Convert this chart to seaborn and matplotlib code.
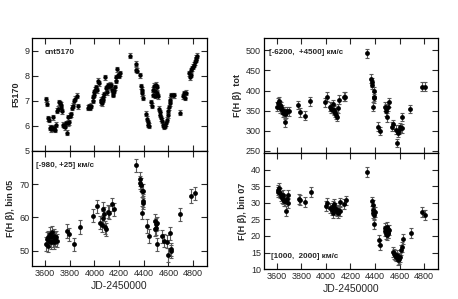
import numpy as np
import matplotlib
matplotlib.use("Agg")
from matplotlib import pyplot as plt
import seaborn as sns

# ---- data ----
cnt_jd = [3610, 3614, 3628, 3636, 3641, 3646, 3652, 3660, 3664, 3670, 3675, 3684, 3690,
          3700, 3706, 3712, 3720, 3727, 3733, 3740, 3745, 3752, 3760, 3768, 3776, 3785,
          3790, 3797, 3805, 3812, 3820, 3826, 3835, 3845, 3855, 3868,
          3950, 3958, 3965, 3972, 3985, 3990, 3995, 4000, 4005, 4012, 4020, 4030, 4038,
          4050, 4055, 4060, 4066, 4072, 4080, 4085, 4092, 4098, 4104, 4110, 4116, 4124,
          4130, 4136, 4142, 4148, 4154, 4160, 4166, 4172, 4178, 4185, 4190, 4198, 4210,
          4292, 4333, 4338, 4345, 4373, 4380, 4384, 4388, 4394, 4420, 4427, 4433, 4438, 4444,
          4462, 4468, 4474, 4478, 4484, 4490, 4494, 4498, 4503, 4508, 4512,
          4526, 4530, 4535, 4540, 4545, 4552, 4560, 4566, 4572, 4580, 4586, 4592, 4598,
          4604, 4610, 4616, 4624, 4634, 4645,
          4690, 4715, 4722, 4735, 4742,
          4770, 4775, 4780, 4786, 4792, 4798, 4805, 4812, 4820, 4826, 4832]
cnt_flux = [7.07, 6.88, 6.30, 6.25, 5.92, 5.87, 5.95, 5.90, 6.35, 5.88, 5.92, 5.84, 6.05,
            6.60, 6.68, 6.94, 6.90, 6.85, 6.70, 6.58, 6.05, 6.00, 5.95, 6.10, 5.73, 6.10,
            6.35, 6.15, 6.40, 6.47, 6.72, 6.80, 6.98, 7.08, 7.20, 6.78,
            6.72, 6.78, 6.72, 6.80, 7.00, 7.15, 7.25, 7.35, 7.45, 7.55, 7.42, 7.80, 7.70,
            7.05, 6.95, 6.90, 7.05, 7.16, 7.26, 7.95, 7.50, 7.35, 7.55, 7.62, 7.60, 7.65,
            7.58, 7.62, 7.45, 7.30, 7.25, 7.40, 7.55, 7.80, 7.95, 8.26, 8.05, 8.00, 8.10,
            8.81, 8.49, 8.25, 8.20, 8.03, 7.58, 7.45, 7.30, 7.13, 6.48, 6.29, 6.15, 6.05, 6.00,
            6.94, 6.80, 7.25, 7.45, 7.61, 7.39, 7.20, 7.65, 7.55, 7.30, 7.19,
            6.68, 6.55, 6.45, 6.30, 6.20, 6.05, 6.00, 5.97, 6.00, 6.10, 6.25, 6.42, 6.60,
            6.74, 6.90, 7.05, 7.22, 7.22, 7.22,
            6.52, 7.19, 7.30, 7.13, 7.32,
            8.10, 7.95, 8.05, 8.23, 8.30, 8.36, 8.45, 8.55, 8.65, 8.72, 8.81]

b05_jd = [3610, 3615, 3622, 3628, 3635, 3640, 3648, 3652, 3658, 3665, 3670, 3676, 3683, 3690, 3700,
          3779, 3792, 3833, 3881,
          3992, 4020, 4046, 4059, 4067, 4072, 4078, 4086, 4094, 4113, 4121, 4143, 4159,
          4333, 4368, 4372, 4376, 4382, 4386, 4390, 4393, 4397,
          4428, 4441, 4487, 4491, 4495, 4500, 4503, 4509,
          4545, 4560, 4590, 4597, 4611, 4617, 4624, 4692, 4782, 4811]
b05_flux = [52.0, 53.5, 51.5, 54.0, 53.0, 55.0, 52.5, 54.0, 55.5, 53.0, 54.5, 52.5, 53.5, 54.0, 53.0,
            55.9, 54.9, 51.9, 57.1,
            60.5, 63.3, 58.4, 57.7, 62.6, 59.9, 61.0, 57.0, 56.4, 61.7, 61.4, 63.9, 62.4,
            75.6, 70.4, 71.5, 69.8, 68.0, 61.4, 65.0, 64.4, 67.9,
            57.4, 54.4, 58.9, 56.5, 57.9, 56.7, 51.9, 58.2,
            54.3, 53.0, 52.7, 48.7, 55.2, 50.4, 49.8, 60.9, 66.4, 67.2]

tot_jd = [3603, 3608, 3617, 3625, 3630, 3638, 3644, 3652, 3657, 3665, 3671, 3678, 3684, 3698,
          3773, 3787, 3827, 3873,
          3990, 4009, 4030, 4041, 4050, 4057, 4063, 4068, 4075, 4079, 4088, 4103, 4111, 4144, 4160,
          4333, 4368, 4373, 4379, 4387, 4390, 4392, 4395,
          4428, 4441,
          4482, 4487, 4492, 4500, 4506, 4514,
          4536, 4549, 4571, 4576, 4590, 4595, 4603, 4617, 4622,
          4687, 4782, 4811]
tot_flux = [360, 370, 373, 364, 356, 360, 352, 345, 348, 341, 321, 343, 348, 348,
            364, 346, 337, 373,
            371, 385, 360, 354, 355, 366, 350, 352, 345, 339, 335, 356, 377, 385, 385,
            493, 429, 421, 414, 360, 385, 398, 381,
            310, 299,
            360, 348, 356, 333, 360, 371,
            310, 316, 302, 269, 294, 302, 308, 306, 334,
            354, 410, 410]

b07_jd = [3608, 3614, 3619, 3625, 3632, 3640, 3648, 3654, 3660, 3668, 3676, 3681, 3688, 3695,
          3781, 3792, 3833, 3879,
          3998, 4012, 4033, 4047, 4055, 4060, 4068, 4074, 4082, 4088, 4095, 4101, 4115, 4118, 4144, 4161,
          4334, 4375, 4380, 4384, 4388, 4391, 4394, 4397,
          4429, 4445,
          4478, 4483, 4488, 4494, 4498, 4502, 4506, 4510, 4516,
          4543, 4556, 4565, 4575, 4583, 4590, 4594, 4602, 4616, 4621, 4627,
          4694, 4787, 4811]
b07_flux = [33.2, 34.0, 34.5, 33.0, 32.0, 31.5, 32.5, 31.1, 30.5, 30.4, 27.4, 31.0, 30.0, 32.5,
            31.1, 30.9, 30.2, 33.3,
            29.1, 29.9, 28.4, 27.7, 26.9, 28.9, 29.5, 28.4, 27.9, 27.4, 26.8, 27.9, 30.1, 27.5, 29.6, 30.7,
            39.3, 30.4, 29.4, 27.7, 26.8, 23.7, 26.4, 27.1,
            18.9, 17.2,
            22.4, 21.4, 20.6, 20.4, 21.8, 22.7, 21.0, 20.9, 21.9,
            15.3, 14.6, 14.2, 13.8, 14.3, 12.8, 13.1, 13.5, 15.8, 16.6, 19.1,
            20.9, 27.1, 26.4]

x_ticks = [3600, 3800, 4000, 4200, 4400, 4600, 4800]

sns.set_style("ticks")
plt.rcParams['font.family'] = ['Liberation Sans', 'DejaVu Sans']

fig = plt.figure(figsize=(4.58, 2.99), dpi=100)
ax_cnt = fig.add_axes([0.070, 0.495, 0.382, 0.378])
ax_b05 = fig.add_axes([0.070, 0.110, 0.382, 0.385])
ax_tot = fig.add_axes([0.576, 0.488, 0.380, 0.385])
ax_b07 = fig.add_axes([0.576, 0.100, 0.380, 0.388])


def panel(ax, jd, flux, err, ylim, yticks, ylabel, note, note_y, size=12, bottom=False):
    ax.errorbar(jd, flux, yerr=err, fmt="none", ecolor="0.35", elinewidth=0.8,
                capsize=1.6, capthick=0.8, zorder=1)
    sns.scatterplot(x=jd, y=flux, ax=ax, color="black", s=size, linewidth=0, zorder=2)
    ax.set_xlim(3495, 4912)
    ax.set_ylim(*ylim)
    ax.set_xticks(x_ticks)
    ax.set_yticks(yticks)
    ax.tick_params(direction="in", length=4, width=0.8, top=True, right=True,
                   labelsize=6.5, pad=2)
    if bottom:
        ax.set_xlabel("JD-2450000", fontsize=7.5, labelpad=2)
    else:
        ax.tick_params(labelbottom=False)
        ax.set_xlabel("")
    ax.set_ylabel(ylabel, fontsize=6.5, fontweight="bold", labelpad=3)
    ax.text(note[0], note_y, note[1], transform=ax.transAxes, fontsize=5.8,
            fontweight="bold", va="center", ha="left")
    for s in ax.spines.values():
        s.set_linewidth(0.9)
        s.set_color("black")


panel(ax_cnt, cnt_jd, cnt_flux, 0.1, (5.0, 9.52), [5, 6, 7, 8, 9], "F5170",
      (0.074, "cnt5170"), 0.87, size=10)
panel(ax_b05, b05_jd, b05_flux, 2.0, (45.4, 79.9), [50, 60, 70], "F(H \u03b2), bin 05",
      (0.023, "[-980, +25] \u043a\u043c/\u0441"), 0.872, bottom=True)
panel(ax_tot, tot_jd, tot_flux, 11, (244, 531), [250, 300, 350, 400, 450, 500],
      "F(H \u03b2)  tot", (0.03, "[-6200,  +4500] \u043a\u043c/\u0441"), 0.87)
panel(ax_b07, b07_jd, b07_flux, 1.5, (10, 45), [10, 15, 20, 25, 30, 35, 40],
      "F(H \u03b2), bin 07", (0.044, "[1000,  2000] \u043a\u043c/\u0441"), 0.112, bottom=True)

fig.savefig("out.png", dpi=100)
